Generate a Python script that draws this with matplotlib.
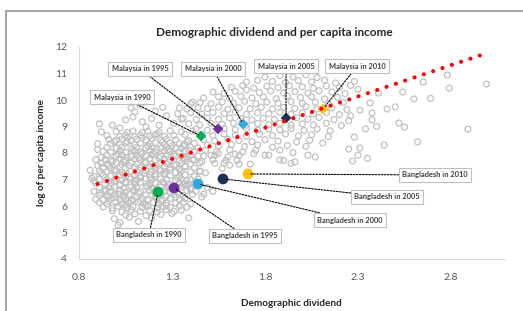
import matplotlib
matplotlib.use("Agg")
import matplotlib.pyplot as plt
from matplotlib.patches import Rectangle

plt.rcParams['font.family'] = ['Lato', 'DejaVu Sans']

# ---------------- data ----------------
title = "Demographic dividend and per capita income"
x_label = "Demographic dividend"
y_label = "log of per capita income"
x_ticks = [0.8, 1.3, 1.8, 2.3, 2.8]
y_ticks = [4, 5, 6, 7, 8, 9, 10, 11, 12]

# dense core of the cloud (low dividend, low income)
cloud_core = [
    (1.01,5.28),(1.02,5.38),(1.12,5.42),(0.99,5.52),(1.07,5.58),(1.19,5.55),(1.39,5.55),
    (1.05,5.66),(1.10,5.70),(1.16,5.64),(1.24,5.68),(1.30,5.72),(0.98,5.82),(1.03,5.78),
    (1.08,5.85),(1.13,5.80),(1.18,5.83),(1.22,5.77),(1.27,5.86),(1.31,5.80),(1.35,5.84),
    (0.93,5.96),(0.98,5.92),(1.01,5.99),(1.06,5.93),(1.09,5.97),(1.14,5.94),(1.17,6.00),
    (1.22,5.93),(1.25,5.98),(1.29,5.95),(1.34,6.01),(1.38,5.96),
    (0.91,6.12),(0.95,6.08),(1.00,6.14),(1.03,6.07),(1.07,6.11),(1.12,6.15),(1.15,6.09),
    (1.20,6.13),(1.23,6.06),(1.27,6.12),(1.32,6.10),(1.36,6.14),(1.40,6.08),
    (0.89,6.26),(0.93,6.23),(0.97,6.29),(1.02,6.24),(1.05,6.28),(1.09,6.22),(1.14,6.27),
    (1.17,6.25),(1.22,6.30),(1.25,6.23),(1.29,6.28),(1.34,6.24),(1.37,6.29),
    (0.91,6.41),(0.96,6.38),(0.99,6.43),(1.04,6.39),(1.07,6.44),(1.11,6.37),(1.16,6.42),
    (1.19,6.40),(1.24,6.45),(1.27,6.38),(1.31,6.43),(1.36,6.40),(1.41,6.44),
    (0.94,6.56),(0.97,6.53),(1.02,6.58),(1.05,6.52),(1.10,6.57),(1.13,6.54),(1.18,6.59),
    (1.21,6.51),(1.26,6.56),(1.33,6.52),(1.38,6.58),(1.43,6.55),
    (0.91,6.71),(0.96,6.68),(0.99,6.73),(1.04,6.67),(1.08,6.72),(1.11,6.69),(1.16,6.74),
    (1.19,6.68),(1.24,6.73),(1.27,6.70),(1.35,6.72),(1.40,6.68),
    (0.89,6.86),(0.94,6.83),(0.97,6.88),(1.02,6.82),(1.05,6.87),(1.10,6.84),(1.13,6.89),
    (1.18,6.83),(1.21,6.88),(1.26,6.85),(1.29,6.82),(1.34,6.88),(1.37,6.84),(1.42,6.87),
    (0.91,7.01),(0.95,6.98),(1.00,7.03),(1.03,6.97),(1.08,7.02),(1.11,6.99),(1.16,7.04),
    (1.19,6.98),(1.24,7.03),(1.27,7.00),(1.32,6.97),(1.35,7.03),(1.40,6.99),(1.44,7.02),
    (0.88,7.12),(0.93,7.16),(0.97,7.13),(1.02,7.18),(1.05,7.12),(1.10,7.17),(1.13,7.14),
    (1.18,7.19),(1.21,7.13),(1.26,7.18),(1.29,7.15),(1.34,7.12),(1.37,7.17),(1.42,7.14),
    (0.91,7.31),(0.95,7.28),(1.00,7.33),(1.03,7.27),(1.08,7.32),(1.11,7.29),(1.16,7.34),
    (1.19,7.28),(1.24,7.33),(1.27,7.30),(1.32,7.27),(1.35,7.33),(1.40,7.29),(1.45,7.32),
    (0.93,7.46),(0.97,7.43),(1.02,7.48),(1.05,7.42),(1.10,7.47),(1.13,7.44),(1.18,7.49),
    (1.21,7.43),(1.26,7.48),(1.29,7.45),(1.34,7.42),(1.37,7.48),(1.42,7.44),
    (0.92,7.61),(0.95,7.58),(1.00,7.63),(1.03,7.57),(1.08,7.62),(1.11,7.59),(1.16,7.64),
    (1.19,7.58),(1.24,7.63),(1.27,7.60),(1.32,7.57),(1.35,7.63),(1.40,7.59),(1.45,7.62),
    (0.94,7.76),(0.97,7.73),(1.02,7.78),(1.05,7.72),(1.10,7.77),(1.13,7.74),(1.18,7.79),
    (1.21,7.73),(1.26,7.78),(1.29,7.75),(1.34,7.72),(1.37,7.78),(1.42,7.74),
    (0.95,7.91),(1.00,7.88),(1.03,7.93),(1.08,7.87),(1.11,7.92),(1.16,7.89),(1.19,7.94),
    (1.24,7.88),(1.27,7.93),(1.32,7.90),(1.35,7.87),(1.40,7.93),(1.44,7.89),
    (0.93,8.06),(0.97,8.03),(1.02,8.08),(1.05,8.02),(1.10,8.07),(1.13,8.04),(1.18,8.09),
    (1.21,8.03),(1.26,8.08),(1.29,8.05),(1.34,8.02),(1.37,8.08),(1.42,8.04),
    (0.95,8.21),(1.00,8.18),(1.03,8.23),(1.08,8.17),(1.11,8.22),(1.16,8.19),(1.19,8.24),
    (1.24,8.18),(1.27,8.23),(1.32,8.20),(1.35,8.17),(1.40,8.22),(1.44,8.19),
    (0.97,8.36),(1.02,8.33),(1.05,8.38),(1.10,8.32),(1.13,8.37),(1.18,8.34),(1.21,8.39),
    (1.26,8.33),(1.29,8.38),(1.34,8.35),(1.37,8.32),(1.42,8.37),
    (0.96,8.51),(1.00,8.48),(1.03,8.53),(1.08,8.47),(1.11,8.52),(1.16,8.49),(1.19,8.54),
    (1.24,8.48),(1.27,8.53),(1.32,8.50),(1.39,8.47),
    (0.95,8.66),(1.02,8.63),(1.05,8.68),(1.10,8.62),(1.13,8.67),(1.18,8.64),(1.21,8.69),
    (1.26,8.63),(1.31,8.66),(1.37,8.70),
    (1.00,8.81),(1.06,8.78),(1.09,8.83),(1.14,8.77),(1.17,8.82),(1.23,8.79),(1.29,8.84),
    (1.35,8.80),(1.41,8.83),
    (0.87,7.05),(0.88,6.55),(0.86,7.35),(0.89,7.75),(0.90,8.35),(0.92,8.80),(0.88,6.95),
    (0.91,9.10),(0.98,9.05),(1.02,8.95),(1.05,9.25),(1.09,9.36),(1.10,9.55),(1.14,9.18),
    (1.16,8.98),(1.19,9.30),(1.23,9.05),(1.27,9.40),(1.31,9.12),(1.35,9.28),(1.21,9.58),
    (1.25,9.72),(1.13,9.80),(1.18,9.95),(1.08,9.70),
]

# extra points filling the densest part of the core
cloud_core_extra = [
    (0.96,6.18),(1.04,6.33),(1.12,6.48),(1.20,6.63),(1.28,6.78),(0.99,6.93),(1.07,7.08),
    (1.15,7.23),(1.23,7.38),(1.31,7.53),(0.98,7.68),(1.06,7.83),(1.14,7.98),(1.22,8.13),
    (1.30,8.28),(1.38,8.43),(0.94,6.63),(1.02,6.78),(1.10,6.93),(1.18,7.08),(1.26,7.23),
    (1.34,7.38),(0.96,7.53),(1.04,7.68),(1.12,7.83),(1.20,7.98),(1.28,8.13),(1.36,8.28),
    (1.06,8.43),(1.14,8.58),(1.22,8.73),(0.92,6.48),(1.00,6.33),(1.08,6.18),(1.16,6.03),
    (1.24,6.18),(1.32,6.33),(1.30,6.63),(1.38,6.78),(0.92,7.23),(0.90,7.53),(0.92,7.83),
    (0.90,8.13),(0.99,8.43),(1.06,8.58),
    (1.01,6.46),(1.09,6.61),(1.17,6.76),(1.25,6.91),(1.33,7.06),(1.04,7.21),(1.12,7.36),
    (1.20,7.51),(1.28,7.66),(1.36,7.81),(1.01,7.96),(1.09,8.11),(1.17,8.26),(1.25,8.41),
    (0.97,6.76),(1.05,6.91),(1.13,7.06),(1.21,7.21),(1.29,7.36),(1.37,7.51),(0.99,7.36),
    (1.07,7.51),(1.15,7.66),(1.23,7.81),(1.31,7.96),(1.39,8.11),(1.05,6.03),(1.13,6.21),
    (1.21,6.36),(1.29,6.51),(0.95,6.36),(1.27,6.02),
]

# upper band of the cloud (higher dividend, higher income)
cloud_upper = [
    (1.80,10.87),(1.88,10.92),(1.95,10.87),(2.02,10.95),(2.08,10.85),
    (1.70,10.68),(1.76,10.74),(1.84,10.70),(1.91,10.66),(1.98,10.73),(2.05,10.69),(2.12,10.75),(2.18,10.64),
    (1.62,10.48),(1.68,10.55),(1.74,10.45),(1.81,10.52),(1.87,10.47),(1.93,10.54),(2.00,10.50),
    (2.06,10.44),(2.13,10.53),(2.20,10.48),(2.26,10.55),
    (1.52,10.30),(1.58,10.25),(1.64,10.33),(1.70,10.38),(1.77,10.28),(1.83,10.34),(1.90,10.27),
    (1.96,10.32),(2.03,10.26),(2.09,10.35),(2.16,10.30),(2.23,10.24),
    (1.41,9.92),(1.47,10.08),(1.55,10.12),(1.61,10.06),(1.67,10.14),(1.73,10.08),(1.79,10.12),
    (1.86,10.05),(1.92,10.15),(1.99,10.09),(2.05,10.12),(2.12,10.04),(2.19,10.10),
    (1.34,9.70),(1.40,9.85),(1.45,9.90),(1.51,9.86),(1.57,9.93),(1.63,9.88),(1.69,9.95),
    (1.75,9.86),(1.81,9.92),(1.87,9.88),(1.94,9.94),(2.00,9.87),(2.07,9.92),(2.14,9.86),(2.22,9.91),
    (1.38,9.66),(1.44,9.72),(1.49,9.68),(1.55,9.74),(1.60,9.65),(1.66,9.71),(1.72,9.67),
    (1.78,9.73),(1.84,9.66),(1.90,9.72),(1.96,9.68),(2.02,9.75),(2.08,9.66),(2.16,9.70),(2.24,9.64),
    (1.33,9.48),(1.40,9.52),(1.46,9.47),(1.52,9.53),(1.58,9.49),(1.64,9.55),(1.70,9.46),
    (1.76,9.52),(1.82,9.48),(1.88,9.54),(1.94,9.46),(2.00,9.51),(2.06,9.47),(2.13,9.53),(2.20,9.45),
    (1.36,9.30),(1.43,9.26),(1.49,9.32),(1.55,9.27),(1.61,9.33),(1.67,9.29),(1.73,9.25),
    (1.79,9.31),(1.85,9.27),(1.97,9.33),(2.03,9.28),(2.09,9.34),(2.17,9.26),(2.25,9.22),
    (1.39,9.10),(1.45,9.06),(1.51,9.12),(1.57,9.08),(1.63,9.13),(1.70,9.05),(1.76,9.11),
    (1.82,9.07),(1.88,9.12),(1.94,9.05),(2.00,9.10),(2.06,9.06),(2.13,9.12),(2.21,9.04),
    (1.43,8.90),(1.49,8.86),(1.58,8.92),(1.64,8.88),(1.70,8.93),(1.76,8.86),(1.82,8.91),
    (1.88,8.87),(1.94,8.93),(2.01,8.85),(2.08,8.90),(2.15,8.84),
    (1.46,8.70),(1.52,8.66),(1.58,8.72),(1.64,8.68),(1.70,8.64),(1.77,8.71),(1.84,8.66),
    (1.91,8.72),(1.98,8.65),(2.05,8.69),(2.14,8.62),
    (1.47,8.50),(1.53,8.45),(1.60,8.52),(1.66,8.47),(1.73,8.43),(1.80,8.50),(1.87,8.45),
    (1.97,8.42),(2.04,8.48),(2.11,8.38),
    (1.49,8.30),(1.55,8.26),(1.62,8.32),(1.69,8.24),(1.76,8.30),(1.84,8.22),(1.92,8.28),(2.02,8.25),
    (1.48,8.10),(1.54,8.05),(1.61,8.12),(1.68,8.04),(1.75,8.10),(1.88,8.11),(1.95,8.02),
    (1.47,7.88),(1.53,7.92),(1.60,7.85),(1.66,7.91),(1.82,7.92),(1.88,7.74),(1.96,7.66),
    (2.03,7.92),(2.07,7.85),
    (1.41,7.74),(1.46,7.68),(1.52,7.75),(1.58,7.62),(1.65,7.72),(1.72,7.58),
    (1.38,7.85),(1.51,7.92),(1.55,7.98),(1.59,7.72),(1.64,7.95),(1.74,7.98),(1.80,7.92),
    (1.90,7.72),(1.94,7.61),(1.53,7.61),(1.57,7.42),(1.61,7.54),(1.66,7.58),(1.45,7.30),
    (1.48,7.25),(1.38,6.96),(1.36,6.81),(1.40,6.62),(1.47,6.45),(1.46,6.34),(1.52,6.55),(1.49,6.70),
]

# sparse points at high dividend
cloud_sparse = [
    (2.30,7.92),(2.25,8.15),(2.31,8.19),(2.34,8.91),(2.375,9.25),(2.375,9.51),(2.365,9.89),
    (2.31,9.62),(2.41,10.26),(2.456,9.66),(2.50,9.74),(2.52,9.13),(2.55,8.98),(2.54,10.30),
    (2.60,10.04),(2.69,10.06),(2.62,8.42),(2.65,10.68),(2.78,10.94),(2.79,10.45),(2.89,8.90),
    (2.99,10.60),(2.28,10.70),(2.30,10.40),(2.26,9.40),(2.28,8.60),(2.40,9.00),(2.44,8.30),
    (2.35,7.80),(2.27,7.70),
]

# linear trend line end points
trend_x = [0.90, 2.98]
trend_y = [6.83, 11.74]

# highlighted country-years
years = [1990, 1995, 2000, 2005, 2010]
year_colors = ["#00b050", "#7030a0", "#2eaae1", "#1f2f5c", "#ffc000"]
malaysia_x = [1.456, 1.547, 1.682, 1.913, 2.112]
malaysia_y = [8.64, 8.91, 9.09, 9.32, 9.66]
bangladesh_x = [1.225, 1.311, 1.440, 1.574, 1.709]
bangladesh_y = [6.53, 6.68, 6.83, 7.02, 7.21]

# label positions (data coordinates)
malaysia_label_x = [1.031, 1.128, 1.520, 1.913, 2.295]
malaysia_label_y = [10.11, 11.17, 11.17, 11.28, 11.28]
bangladesh_label_x = [1.176, 1.692, 2.257, 2.456, 2.714]
bangladesh_label_y = [4.91, 4.87, 5.47, 6.34, 7.17]

# ---------------- figure ----------------
W, H = 523, 311
fig = plt.figure(figsize=(W / 100, H / 100), dpi=100)
ax = fig.add_axes([79 / W, 1 - 259 / H, (505 - 79) / W, (259 - 47) / H])

# outer chart border
fig.patches.append(Rectangle((6 / W, -0.2), 1.2, 1.2 - 11 / H, transform=fig.transFigure,
                             fill=False, edgecolor="#a6a6a6", linewidth=1.5, clip_on=False))

for pts in (cloud_core, cloud_core_extra, cloud_upper, cloud_sparse):
    ax.scatter([p[0] for p in pts], [p[1] for p in pts], s=18, facecolors="none",
               edgecolors="#c0c0c0", linewidths=0.9, zorder=2)

ax.scatter(malaysia_x, malaysia_y, s=30, marker="D", c=year_colors, edgecolors="none", zorder=3)
ax.scatter(bangladesh_x, bangladesh_y, s=60, marker="o", c=year_colors, edgecolors="none", zorder=3)

ax.plot(trend_x, trend_y, color="#ff0000", linewidth=3.0, linestyle=(0, (0.01, 2.35)),
        dash_capstyle="round", zorder=4)

box = dict(boxstyle="square,pad=0.45", fc="white", ec="#bfbfbf", lw=0.8)
arrow = dict(arrowstyle="-", color="black", lw=0.8, linestyle=(0, (1.5, 1.3)),
             shrinkA=0, shrinkB=2)
for i, yr in enumerate(years):
    ax.annotate(f"Malaysia in {yr}", xy=(malaysia_x[i], malaysia_y[i]),
                xytext=(malaysia_label_x[i], malaysia_label_y[i]), textcoords="data",
                ha="center", va="center", fontsize=5.4, fontweight="bold", color="#404040",
                bbox=box, arrowprops=arrow, zorder=5)
    ax.annotate(f"Bangladesh in {yr}", xy=(bangladesh_x[i], bangladesh_y[i]),
                xytext=(bangladesh_label_x[i], bangladesh_label_y[i]), textcoords="data",
                ha="center", va="center", fontsize=5.4, fontweight="bold", color="#404040",
                bbox=box, arrowprops=arrow, zorder=5)

ax.set_xlim(0.8, 3.09)
ax.set_ylim(4, 12)
ax.set_xticks(x_ticks)
ax.set_xticklabels([f"{v:.1f}" for v in x_ticks])
ax.set_yticks(y_ticks)
ax.tick_params(length=0, labelsize=7.5, labelcolor="#595959")
ax.tick_params(axis="x", pad=10)
ax.tick_params(axis="y", pad=8.5)
for s in ("top", "right"):
    ax.spines[s].set_visible(False)
for s in ("left", "bottom"):
    ax.spines[s].set_color("#d9d9d9")
    ax.spines[s].set_linewidth(0.8)

fig.text(274 / W, 1 - 33 / H, title, ha="center", va="center", fontsize=8.5,
         fontweight="bold", color="#262626")
fig.text(291 / W, 1 - 303 / H, x_label, ha="center", va="center", fontsize=7.2,
         fontweight="bold", color="#262626")
fig.text(42 / W, 1 - 153 / H, y_label, ha="center", va="center", rotation=90,
         fontsize=7.2, fontweight="bold", color="#262626")

fig.savefig("out.png", dpi=100)
